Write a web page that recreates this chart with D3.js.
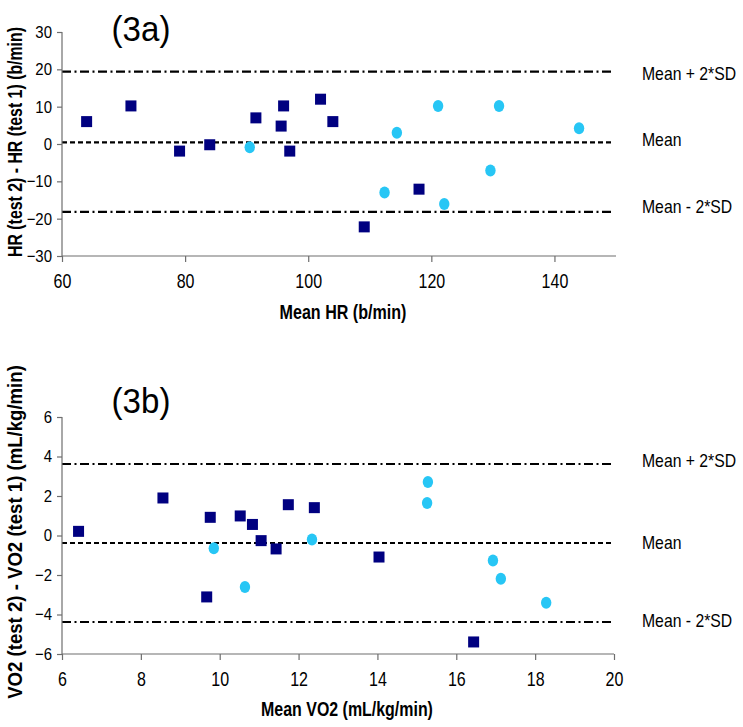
<!DOCTYPE html>
<html><head><meta charset="utf-8">
<script src="https://cdn.jsdelivr.net/npm/d3@7"></script>
<style>
body{margin:0;background:#fff;}
svg{display:block;font-family:"Liberation Sans",Arial,sans-serif;}
</style></head>
<body><svg id="c" width="743" height="727"></svg>
<script>
// ---- Data: panel 3a (HR) ----
const hrSquaresX = [64, 71.2, 79.1, 84, 91.5, 95.6, 96, 97, 102, 104, 109.1, 118];
const hrSquaresY = [6, 10.2, -1.9, -0.2, 7, 4.8, 10.2, -1.9, 12, 6, -22.2, -12.1];
const hrCirclesX = [90.5, 112.4, 114.4, 121.1, 122.1, 129.6, 131, 144];
const hrCirclesY = [-0.9, -13, 3, 10.2, -16.1, -7.1, 10.2, 4.2];
const hrLines = [19.4, 0.45, -18.2];
const hrXTicks = [60, 80, 100, 120, 140];
const hrYTicks = [-30, -20, -10, 0, 10, 20, 30];

// ---- Data: panel 3b (VO2) ----
const voSquaresX = [6.42, 8.56, 9.76, 9.67, 10.52, 10.83, 11.05, 11.43, 11.74, 12.4, 14.04, 16.44];
const voSquaresY = [0.21, 1.9, 0.92, -3.11, 0.99, 0.56, -0.26, -0.68, 1.56, 1.41, -1.09, -5.39];
const voCirclesX = [9.85, 10.64, 12.34, 15.28, 15.26, 16.93, 17.13, 18.28];
const voCirclesY = [-0.65, -2.61, -0.2, 2.71, 1.65, -1.26, -2.19, -3.4];
const voLines = [3.62, -0.38, -4.38];
const voXTicks = [6, 8, 10, 12, 14, 16, 18, 20];
const voYTicks = [-6, -4, -2, 0, 2, 4, 6];

const lineLabels = ["Mean + 2*SD", "Mean", "Mean - 2*SD"];

const svg = d3.select("#c");
const SQ = "#000080", CI = "#27c6f5", AX = "#6e6e6e";

function panel(o) {
  const x = d3.scaleLinear().domain(o.xd).range([62, o.xEnd]);
  const y = d3.scaleLinear().domain(o.yd).range([o.yBottom, o.yTop]);
  const g = svg.append("g");

  // reference lines + labels (narrow face imitated with a horizontal scale)
  const dashes = ["9,3.5,2,3.5", "5,3", "9,3.5,2,3.5"];
  o.lines.forEach((v, i) => {
    g.append("line").attr("x1", x(o.xd[0])).attr("x2", o.lineEnd)
      .attr("y1", y(v)).attr("y2", y(v))
      .attr("stroke", "#000").attr("stroke-width", 2.2)
      .attr("stroke-dasharray", dashes[i]);
    g.append("text")
      .attr("transform", `translate(642,${y(v) + o.labOff[i]}) scale(0.83,1)`)
      .attr("dominant-baseline", "middle").attr("font-size", 19)
      .text(lineLabels[i]);
  });

  // axes
  const ya = d3.axisLeft(y).tickValues(o.yt).tickSize(5).tickPadding(5).tickFormat(d3.format("d"));
  const xa = d3.axisBottom(x).tickValues(o.xt).tickSize(6).tickPadding(12).tickFormat(d3.format("d"));
  const gy = g.append("g").attr("transform", "translate(62,0)").call(ya);
  const gx = g.append("g").attr("transform", `translate(0,${o.yBottom})`).call(xa);
  [gx, gy].forEach(a => {
    a.select(".domain").attr("stroke", AX).attr("stroke-width", 1.2);
    a.selectAll(".tick line").attr("stroke", AX).attr("stroke-width", 1.2);
    a.selectAll(".tick text").attr("fill", "#000")
      .attr("font-family", '"Liberation Sans",Arial,sans-serif');
  });
  const ky = 0.88, kx = 0.8;
  gy.selectAll(".tick text").attr("font-size", 17)
    .attr("x", -10 / ky).attr("transform", `scale(${ky},1)`);
  gx.selectAll(".tick text").attr("font-size", 20)
    .attr("transform", `scale(${kx},1)`);
  gy.select(".domain").attr("d", `M0,${o.yTop}V${o.yBottom}`);
  gx.select(".domain").attr("d", `M62,0H${o.xEnd}`);

  // markers
  g.selectAll(".sq").data(o.sx).join("rect")
    .attr("x", d => x(d) - 5.5).attr("y", (d, i) => y(o.sy[i]) - 5.5)
    .attr("width", 11).attr("height", 11).attr("fill", SQ);
  g.selectAll(".ci").data(o.cx).join("ellipse")
    .attr("cx", d => x(d)).attr("cy", (d, i) => y(o.cy[i]))
    .attr("rx", 5.2).attr("ry", 6).attr("fill", CI);

  // titles
  g.append("text").attr("transform", `translate(141,${o.titleY}) scale(0.92,1)`)
    .attr("text-anchor", "middle").attr("font-size", 36).text(o.title);

  const xt = g.append("text").attr("text-anchor", "middle")
    .attr("dominant-baseline", "middle").attr("font-size", 20).attr("font-weight", "bold")
    .text(o.xTitle);
  const xw = xt.node().getComputedTextLength();
  xt.attr("transform", `translate(${o.xtX},${o.xtY}) scale(${o.xtW / xw},1)`);

  const yt = g.append("text").attr("text-anchor", "middle")
    .attr("dominant-baseline", "middle").attr("font-size", 20).attr("font-weight", "bold")
    .text(o.yTitle);
  const yw = yt.node().getComputedTextLength();
  yt.attr("transform", `translate(17,${o.ytY}) rotate(-90) scale(${o.ytW / yw},1)`);
}

panel({
  xd: [60, 150], yd: [-30, 30], xEnd: 616, lineEnd: 612, yTop: 32, yBottom: 256,
  sx: hrSquaresX, sy: hrSquaresY, cx: hrCirclesX, cy: hrCirclesY,
  lines: hrLines, labOff: [3, -1, -4], xt: hrXTicks, yt: hrYTicks,
  title: "(3a)", titleY: 41, xTitle: "Mean HR (b/min)", xtX: 343, xtY: 314, xtW: 127,
  yTitle: "HR (test 2) - HR (test 1) (b/min)", ytY: 142, ytW: 230
});
panel({
  xd: [6, 20], yd: [-6, 6], xEnd: 614, lineEnd: 612, yTop: 417, yBottom: 654,
  sx: voSquaresX, sy: voSquaresY, cx: voCirclesX, cy: voCirclesY,
  lines: voLines, labOff: [-2.5, 0.7, 0.4], xt: voXTicks, yt: voYTicks,
  title: "(3b)", titleY: 413, xTitle: "Mean VO2 (mL/kg/min)", xtX: 347, xtY: 711, xtW: 172,
  yTitle: "VO2 (test 2) - VO2 (test 1) (mL/kg/min)", ytY: 532, ytW: 334
});
</script></body></html>
